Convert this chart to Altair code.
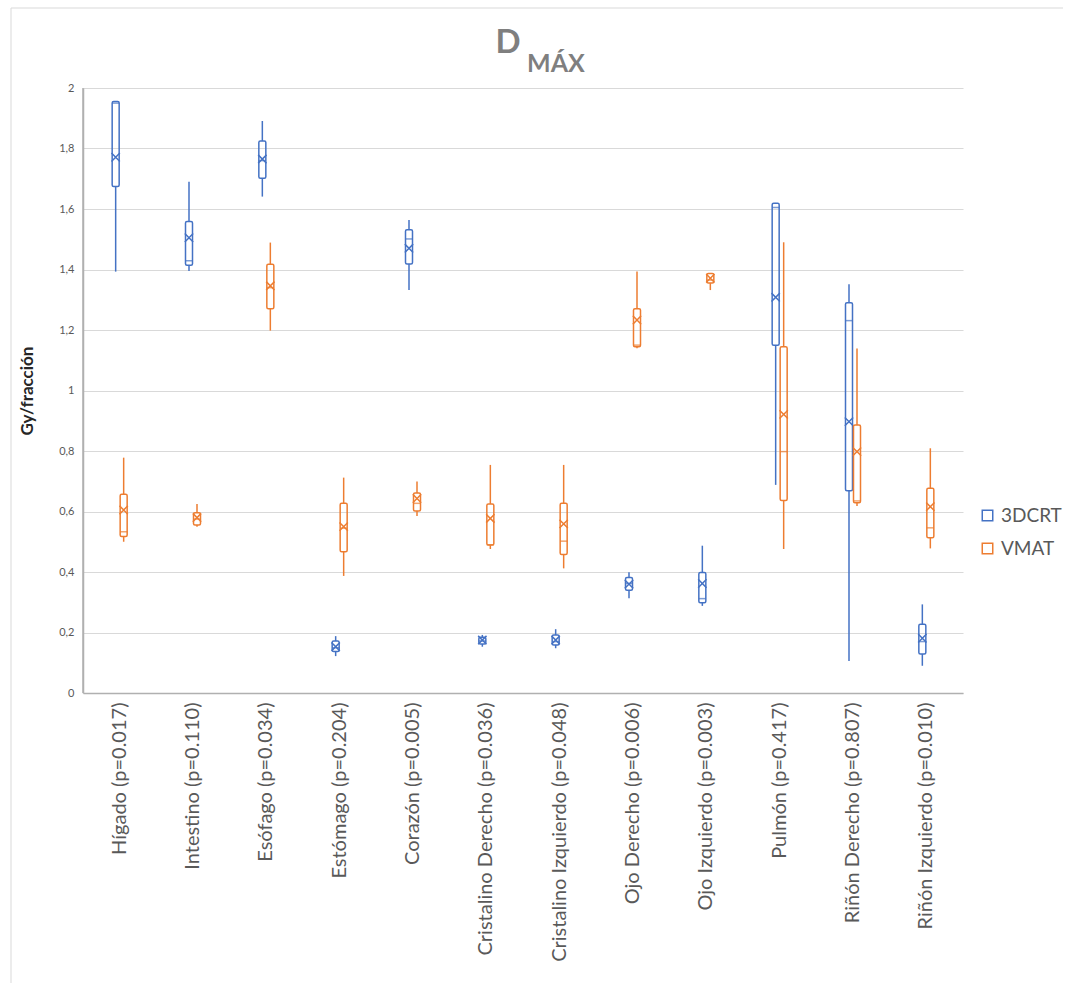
import altair as alt
import pandas as pd

organs = ["Hígado (p=0.017)", "Intestino (p=0.110)", "Esófago (p=0.034)",
          "Estómago (p=0.204)", "Corazón (p=0.005)", "Cristalino Derecho (p=0.036)",
          "Cristalino Izquierdo (p=0.048)", "Ojo Derecho (p=0.006)",
          "Ojo Izquierdo (p=0.003)", "Pulmón (p=0.417)", "Riñón Derecho (p=0.807)",
          "Riñón Izquierdo  (p=0.010)"]

# 3DCRT
c_min = [1.393, 1.395, 1.641, 0.122, 1.332, 0.153, 0.148, 0.313, 0.288, 0.688, 0.106, 0.090]
c_q1 = [1.674, 1.414, 1.702, 0.137, 1.418, 0.162, 0.159, 0.340, 0.298, 1.150, 0.669, 0.129]
c_med = [1.950, 1.429, 1.760, 0.150, 1.501, 0.172, 0.170, 0.362, 0.312, 1.605, 1.231, 0.170]
c_q3 = [1.955, 1.559, 1.825, 0.172, 1.531, 0.184, 0.192, 0.382, 0.398, 1.619, 1.290, 0.227]
c_max = [1.955, 1.690, 1.891, 0.188, 1.564, 0.192, 0.211, 0.399, 0.487, 1.620, 1.351, 0.293]
c_mean = [1.771, 1.505, 1.765, 0.153, 1.470, 0.175, 0.175, 0.360, 0.362, 1.308, 0.897, 0.181]

# VMAT
v_min = [0.500, 0.550, 1.198, 0.387, 0.585, 0.476, 0.412, 1.140, 1.332, 0.476, 0.618, 0.478]
v_q1 = [0.517, 0.555, 1.270, 0.467, 0.602, 0.489, 0.458, 1.145, 1.355, 0.636, 0.629, 0.513]
v_med = [0.533, 0.575, 1.340, 0.545, 0.627, 0.490, 0.502, 1.150, 1.365, 0.798, 0.635, 0.546]
v_q3 = [0.657, 0.596, 1.417, 0.627, 0.661, 0.625, 0.627, 1.270, 1.387, 1.145, 0.886, 0.677]
v_max = [0.778, 0.625, 1.489, 0.712, 0.699, 0.754, 0.754, 1.393, 1.387, 1.490, 1.139, 0.809]
v_mean = [0.605, 0.580, 1.346, 0.550, 0.643, 0.577, 0.559, 1.233, 1.371, 0.921, 0.798, 0.616]

groups = ["3DCRT", "VMAT"]
colors = ["#4472C4", "#ED7D31"]
offsets = [-4, 4]

rows = []
for i, o in enumerate(organs):
    rows.append(dict(organ=o, group="3DCRT", lo=c_min[i], q1=c_q1[i], med=c_med[i],
                     q3=c_q3[i], hi=c_max[i], mean=c_mean[i]))
    rows.append(dict(organ=o, group="VMAT", lo=v_min[i], q1=v_q1[i], med=v_med[i],
                     q3=v_q3[i], hi=v_max[i], mean=v_mean[i]))
df = pd.DataFrame(rows)

W, H = 880, 605
font = "Lato"
grey = "#595959"

xenc = alt.X("organ:N", sort=organs, title=None,
             scale=alt.Scale(paddingInner=0, paddingOuter=0),
             axis=alt.Axis(labelAngle=270, labelFontSize=20, labelColor=grey,
                           labelFont=font, labelPadding=9, ticks=False,
                           domainColor="#b0b0b0", domainWidth=1.5, labelLimit=400))
yscale = alt.Scale(domain=[0, 2], nice=False)
yaxis = alt.Axis(values=[0, 0.2, 0.4, 0.6, 0.8, 1.0, 1.2, 1.4, 1.6, 1.8, 2.0],
                 labelExpr="replace(format(datum.value, '~g'), '.', ',')",
                 labelFontSize=11, labelColor=grey, labelFont=font, ticks=False,
                 domain=True, domainColor="#b0b0b0", domainWidth=1.5,
                 grid=True, gridColor="#d9d9d9", gridWidth=1, labelPadding=9,
                 title="Gy/fracción", titleFont=font, titleFontSize=17,
                 titleFontWeight="bold", titleColor="#262626", titlePadding=22)


def Y(field):
    return alt.Y(field, scale=yscale, axis=yaxis)


stroke_scale = alt.Scale(domain=groups, range=colors)

layers = []
for g, off in zip(groups, offsets):
    col = colors[groups.index(g)]
    base = alt.Chart(df).transform_filter(alt.datum.group == g)
    boxes = base.mark_bar(size=7, fill="white", fillOpacity=0, strokeWidth=1.5,
                          xOffset=off, cornerRadius=1.5).encode(
        x=xenc,
        y=Y("q1:Q"),
        y2="q3:Q",
        stroke=alt.Stroke("group:N", scale=stroke_scale,
                          legend=alt.Legend(title=None, orient="none",
                                            legendX=W + 15, legendY=418,
                                            symbolType="square", symbolSize=110,
                                            symbolStrokeWidth=1.5,
                                            symbolFillColor="white",
                                            symbolOpacity=1,
                                            labelFontSize=19, labelFont=font,
                                            labelColor=grey, rowPadding=13,
                                            labelOffset=4)),
    )
    upper = base.mark_rule(strokeWidth=1.5, xOffset=off, color=col).encode(
        x=xenc, y=Y("q3:Q"), y2="hi:Q")
    lower = base.mark_rule(strokeWidth=1.5, xOffset=off, color=col).encode(
        x=xenc, y=Y("lo:Q"), y2="q1:Q")
    med = base.mark_tick(size=7, thickness=1.5, xOffset=off, color=col).encode(
        x=xenc, y=Y("med:Q"))
    mean = base.mark_point(shape="M-1,-1L1,1M-1,1L1,-1", size=70, strokeWidth=1.5,
                           filled=False, opacity=1, xOffset=off, color=col).encode(
        x=xenc, y=Y("mean:Q"))
    layers += [boxes, upper, lower, med, mean]

one = pd.DataFrame({"k": [0]})
title_d = alt.Chart(one).mark_text(text="D", fontSize=33, fontWeight="bold", font=font,
                                   color="#7f7f7f", align="center",
                                   baseline="alphabetic").encode(
    x=alt.value(425), y=alt.value(-35))
title_sub = alt.Chart(one).mark_text(text="MÁX", fontSize=25, fontWeight="bold", font=font,
                                     color="#7f7f7f", align="left",
                                     baseline="alphabetic").encode(
    x=alt.value(444), y=alt.value(-16))
border = alt.Chart(one).mark_rect(fillOpacity=0, stroke="#d9d9d9", strokeWidth=1).encode(
    x=alt.value(-72), y=alt.value(-80), x2=alt.value(W + 120), y2=alt.value(H + 320))
yline = alt.Chart(one).mark_rule(color="#b0b0b0", strokeWidth=1.5).encode(
    x=alt.value(0), y=alt.value(0), y2=alt.value(H))

chart = alt.layer(border, yline, *layers, title_d, title_sub).properties(
    width=W, height=H,
    autosize=alt.AutoSizeParams(type="none"),
    padding={"left": 83, "top": 88, "right": 100, "bottom": 290},
    background="white",
).configure_view(stroke=None)

chart.save("out.html", embed_options={"renderer": "svg", "actions": False})
